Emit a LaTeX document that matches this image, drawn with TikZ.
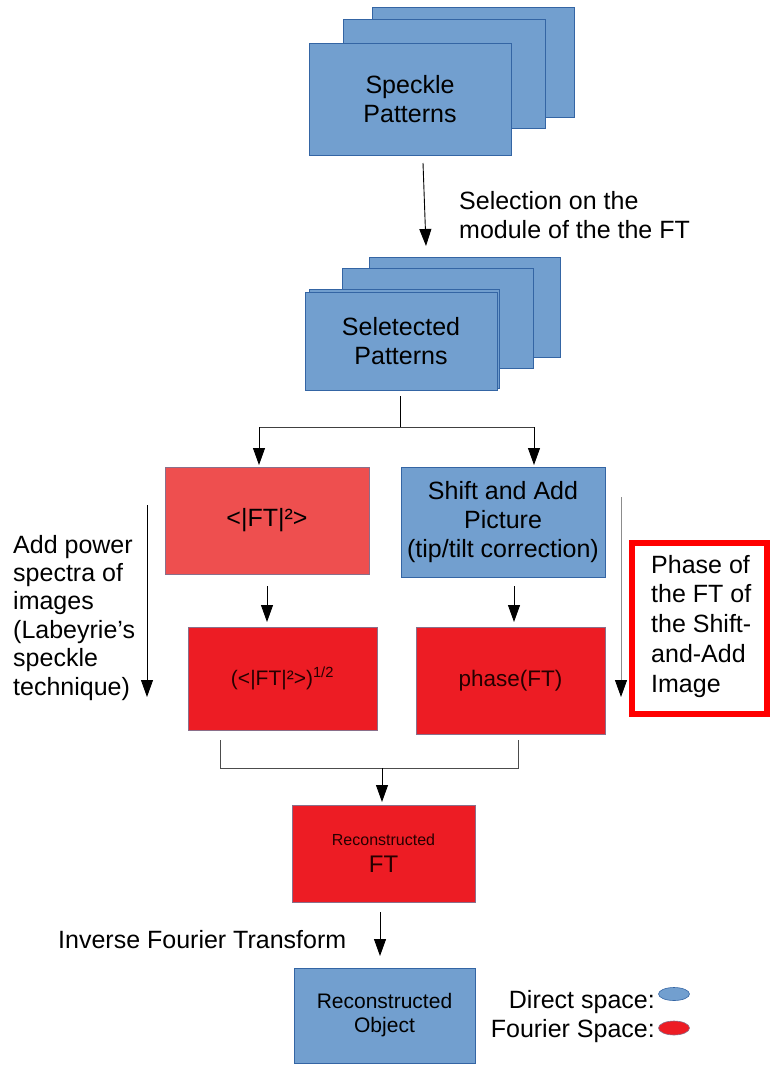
\documentclass[tikz,border=0pt]{standalone}
\usepackage{fontspec}
\setmainfont{Liberation Sans}
\usetikzlibrary{arrows.meta,calc,shapes.geometric}
\definecolor{dblue}{HTML}{729FCF}
\definecolor{dblueb}{HTML}{3465A4}
\definecolor{lred}{HTML}{EE4F4F}
\definecolor{fred}{HTML}{ED1C24}
\definecolor{redb}{HTML}{8A6F8A}
\definecolor{boxred}{HTML}{FF0000}
\begin{document}
\begin{tikzpicture}[x=1pt,y=-1pt,
  big/.style={font=\fontsize{25}{29}\selectfont},
  bluebox/.style={draw=dblueb, fill=dblue, line width=0.8pt, inner sep=0pt, align=center, text=black, big},
  lredbox/.style={draw=redb, fill=lred, line width=0.8pt, inner sep=0pt, align=center, text=black, big},
  redbox/.style={draw=redb, fill=fred, line width=0.8pt, inner sep=0pt, align=center, text=black!85!red, big},
  conn/.style={line width=0.9pt, draw=black, -{Triangle[length=17pt,width=12pt]}},
  gconn/.style={line width=0.9pt, draw=black!45, -{Triangle[length=17pt,width=12pt,fill=black,color=black]}},
  plain/.style={line width=0.9pt, draw=black!70},
  lbl/.style={big, inner sep=0pt, align=left}
]
\useasboundingbox (0,0) rectangle (774,1065);

% Speckle stack
\node[bluebox, minimum width=202pt, minimum height=110pt] (spb) at (473,62) {};
\node[bluebox, minimum width=202pt, minimum height=109pt] (spm) at (444,73.5) {};
\node[bluebox, minimum width=202pt, minimum height=112pt] (spf) at (410,99) {Speckle\\Patterns};

% Selected stack
\node[bluebox, minimum width=191pt, minimum height=100pt] (seb) at (464.5,307) {};
\node[bluebox, minimum width=191pt, minimum height=100pt] (sem) at (437.5,318) {};
\node[bluebox, minimum width=190pt, minimum height=99pt] (ses) at (404,338.5) {};
\node[bluebox, minimum width=192pt, minimum height=98pt] (sef) at (401,341) {Seletected\\Patterns};

% arrow 1
\coordinate (a1s) at (423,163);
\coordinate (a1e) at (426,246);
\draw[conn] (a1s) -- (a1e);
\node[lbl, anchor=base west] (sel) at (459,238) {Selection on the\\module of the the FT};

% second row
\node[lredbox, minimum width=204pt, minimum height=107pt] (ft2) at (267,520.5) {<|FT|²>};
\node[bluebox, minimum width=204pt, minimum height=110pt] (sa) at (503,522) {Shift and Add\\Picture\\(tip/tilt correction)};

% split
\coordinate (b0) at (400,396);
\coordinate (br) at (400,427);
\coordinate (bl) at (259,427);
\coordinate (brr) at (534,427);
\coordinate (blt) at (259,465);
\coordinate (brt) at (534,465);
\draw[plain, draw=black] (b0) -- (br);
\draw[plain, draw=black!75] (bl) -- (brr);
\draw[conn] (bl) -- (blt);
\draw[conn] (brr) -- (brt);

% third row
\node[redbox, minimum width=189pt, minimum height=103pt, font=\fontsize{21}{25}\selectfont] (sq) at (282.5,678.5) {(<|FT|²>)\textsuperscript{1/2}};
\node[redbox, minimum width=189pt, minimum height=107pt, font=\fontsize{22.5}{26}\selectfont] (ph) at (510.5,680.5) {phase(FT)};

\coordinate (c1s) at (267,586);
\coordinate (c1e) at (267,622);
\coordinate (c2s) at (514,586);
\coordinate (c2e) at (514,622);
\draw[conn] (c1s) -- (c1e);
\draw[conn] (c2s) -- (c2e);

% side annotations
\coordinate (la1) at (147,505);
\coordinate (la2) at (147,697);
\draw[conn] (la1) -- (la2);
\node[lbl, anchor=base west, font=\fontsize{25}{28.4}\selectfont] (ltxt) at (13,695) {Add power\\spectra of\\images\\(Labeyrie’s\\speckle\\technique)};

\coordinate (ra1) at (621,497);
\coordinate (ra2) at (621,697);
\draw[gconn] (ra1) -- (ra2);
\node[draw=boxred, line width=6pt, fill=white, minimum width=135pt, minimum height=171pt, inner sep=0pt] (rbox) at (699.5,628.5) {};
\node[lbl, anchor=base west, font=\fontsize{25}{29.75}\selectfont] (rtxt) at (651,692) {Phase of\\the FT of\\the Shift-\\and-Add\\Image};

% merge
\coordinate (m1) at (220,740);
\coordinate (m1b) at (220,768);
\coordinate (m2) at (518,740);
\coordinate (m2b) at (518,768);
\coordinate (mc) at (382,768);
\coordinate (mct) at (382,802);
\draw[plain] (m1) -- (m1b) -- (m2b) -- (m2);
\draw[conn] (mc) -- (mct);

\node[redbox, minimum width=183pt, minimum height=97pt] (rft) at (383.5,853.5) {{\fontsize{16}{20}\selectfont Reconstructed}\\[-2pt]{\fontsize{24}{26}\selectfont FT}};

\coordinate (d1) at (380,912);
\coordinate (d2) at (380,956);
\draw[conn] (d1) -- (d2);
\node[lbl, anchor=base west] (ift) at (58,948) {Inverse Fourier Transform};

\node[bluebox, minimum width=181pt, minimum height=95pt, font=\fontsize{21}{24}\selectfont] (robj) at (384.5,1015.5) {Reconstructed\\Object};

% legend
\node[lbl, anchor=base east] (lgd) at (655,1008) {Direct space:};
\node[lbl, anchor=base east] (lgf) at (655,1037) {Fourier Space:};
\node[ellipse, draw=dblueb, fill=dblue, line width=0.6pt, minimum width=31pt, minimum height=13pt, inner sep=0pt] (eb) at (674,994) {};
\node[ellipse, draw=redb, fill=fred, line width=0.6pt, minimum width=31pt, minimum height=14pt, inner sep=0pt] (er) at (674,1028) {};
\end{tikzpicture}
\end{document}
